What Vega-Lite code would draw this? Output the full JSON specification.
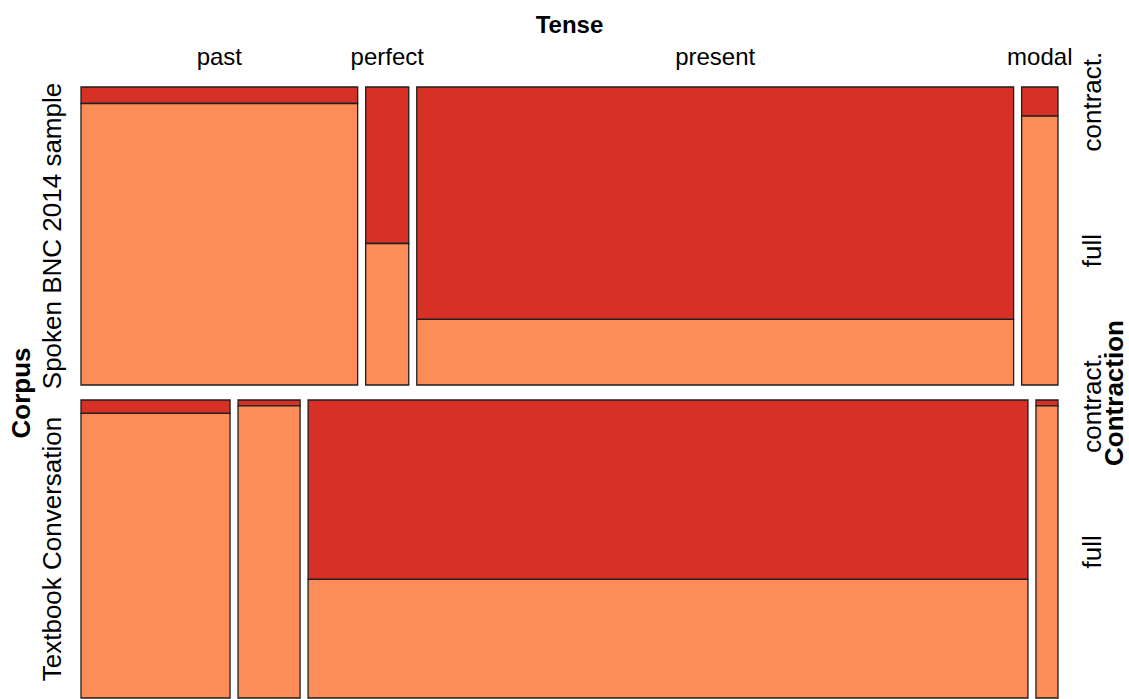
{
  "$schema": "https://vega.github.io/schema/vega-lite/v6.json",
  "background": "white",
  "padding": {"top": 14, "left": 9, "right": 0, "bottom": 0},
  "bounds": "flush",
  "data": {
    "values": [
      {"Corpus": "Spoken BNC 2014 sample", "Tense": "past", "Contraction": "contract.", "n": 160},
      {"Corpus": "Spoken BNC 2014 sample", "Tense": "past", "Contraction": "full", "n": 2726},
      {"Corpus": "Spoken BNC 2014 sample", "Tense": "perfect", "Contraction": "contract.", "n": 272},
      {"Corpus": "Spoken BNC 2014 sample", "Tense": "perfect", "Contraction": "full", "n": 246},
      {"Corpus": "Spoken BNC 2014 sample", "Tense": "present", "Contraction": "contract.", "n": 4783},
      {"Corpus": "Spoken BNC 2014 sample", "Tense": "present", "Contraction": "full", "n": 1349},
      {"Corpus": "Spoken BNC 2014 sample", "Tense": "modal", "Contraction": "contract.", "n": 44},
      {"Corpus": "Spoken BNC 2014 sample", "Tense": "modal", "Contraction": "full", "n": 406},
      {"Corpus": "Textbook Conversation", "Tense": "past", "Contraction": "contract.", "n": 72},
      {"Corpus": "Textbook Conversation", "Tense": "past", "Contraction": "full", "n": 1522},
      {"Corpus": "Textbook Conversation", "Tense": "perfect", "Contraction": "contract.", "n": 14},
      {"Corpus": "Textbook Conversation", "Tense": "perfect", "Contraction": "full", "n": 697},
      {"Corpus": "Textbook Conversation", "Tense": "present", "Contraction": "contract.", "n": 4448},
      {"Corpus": "Textbook Conversation", "Tense": "present", "Contraction": "full", "n": 2940},
      {"Corpus": "Textbook Conversation", "Tense": "modal", "Contraction": "contract.", "n": 6},
      {"Corpus": "Textbook Conversation", "Tense": "modal", "Contraction": "full", "n": 299}
    ]
  },
  "transform": [
    {"stack": "n", "groupby": ["Corpus"], "offset": "normalize", "as": ["sx0", "sx1"]},
    {"window": [{"op": "min", "field": "sx0", "as": "x0"}, {"op": "max", "field": "sx1", "as": "x1"}], "groupby": ["Corpus", "Tense"], "frame": [null, null]},
    {"stack": "n", "groupby": ["Corpus", "Tense"], "offset": "normalize", "sort": [{"field": "Contraction", "order": "ascending"}], "as": ["y0", "y1"]}
  ],
  "facet": {
    "row": {
      "field": "Corpus",
      "type": "nominal",
      "title": null,
      "header": {
        "labelAngle": -90,
        "labelOrient": "left",
        "labelFontSize": 26,
        "labelColor": "black",
        "labelPadding": -2
      }
    }
  },
  "spacing": 15,
  "spec": {
    "width": 985,
    "height": 298,
    "layer": [
      {
        "mark": {"type": "rect", "stroke": "#1e1e1e", "strokeWidth": 1.3, "xOffset": 4, "x2Offset": -4},
        "encoding": {
          "x": {"field": "x0", "type": "quantitative", "scale": {"domain": [0, 1], "nice": false, "zero": false}, "axis": null},
          "x2": {"field": "x1"},
          "y": {"field": "y0", "type": "quantitative", "scale": {"domain": [0, 1], "nice": false, "reverse": true}, "axis": null},
          "y2": {"field": "y1"},
          "color": {"field": "Contraction", "type": "nominal", "scale": {"domain": ["contract.", "full"], "range": ["#D73027", "#FC8D59"]}, "legend": null}
        }
      },
      {
        "transform": [
          {"filter": {"field": "Corpus", "equal": "Spoken BNC 2014 sample"}},
          {"filter": {"field": "Contraction", "equal": "full"}},
          {"fold": ["x0", "x1"], "as": ["edge", "xe"]}
        ],
        "mark": {"type": "text", "fontSize": 24, "align": "center", "baseline": "alphabetic", "yOffset": -22, "color": "black"},
        "encoding": {
          "x": {"aggregate": "mean", "field": "xe", "type": "quantitative"},
          "y": {"value": 0},
          "text": {"field": "Tense", "type": "nominal"}
        }
      },
      {
        "transform": [
          {"filter": {"field": "Tense", "equal": "modal"}},
          {"fold": ["y0", "y1"], "as": ["edge", "ye"]}
        ],
        "mark": {"type": "text", "fontSize": 26, "angle": 270, "align": "center", "baseline": "alphabetic", "xOffset": 39, "color": "black"},
        "encoding": {
          "x": {"value": "width"},
          "y": {"aggregate": "mean", "field": "ye", "type": "quantitative"},
          "text": {"field": "Contraction", "type": "nominal"}
        }
      },
      {
        "transform": [
          {"filter": {"field": "Corpus", "equal": "Spoken BNC 2014 sample"}},
          {"filter": {"field": "Tense", "equal": "modal"}},
          {"filter": {"field": "Contraction", "equal": "full"}}
        ],
        "mark": {"type": "text", "text": "Tense", "fontSize": 24, "fontWeight": "bold", "align": "center", "baseline": "alphabetic", "yOffset": -54, "color": "black"},
        "encoding": {
          "x": {"datum": 0.5},
          "y": {"value": 0}
        }
      },
      {
        "transform": [
          {"filter": {"field": "Corpus", "equal": "Textbook Conversation"}},
          {"filter": {"field": "Tense", "equal": "modal"}},
          {"filter": {"field": "Contraction", "equal": "full"}}
        ],
        "mark": {"type": "text", "text": "Contraction", "fontSize": 26, "fontWeight": "bold", "angle": 270, "align": "center", "baseline": "alphabetic", "xOffset": 61, "yOffset": -7, "color": "black"},
        "encoding": {
          "x": {"value": "width"},
          "y": {"value": 0}
        }
      },
      {
        "transform": [
          {"filter": {"field": "Corpus", "equal": "Textbook Conversation"}},
          {"filter": {"field": "Tense", "equal": "modal"}},
          {"filter": {"field": "Contraction", "equal": "full"}}
        ],
        "mark": {"type": "text", "text": "Corpus", "fontSize": 26, "fontWeight": "bold", "angle": 270, "align": "center", "baseline": "alphabetic", "xOffset": -47, "yOffset": -7, "color": "black"},
        "encoding": {
          "x": {"value": 0},
          "y": {"value": 0}
        }
      }
    ]
  },
  "config": {
    "view": {"stroke": null},
    "font": "Liberation Sans"
  }
}
